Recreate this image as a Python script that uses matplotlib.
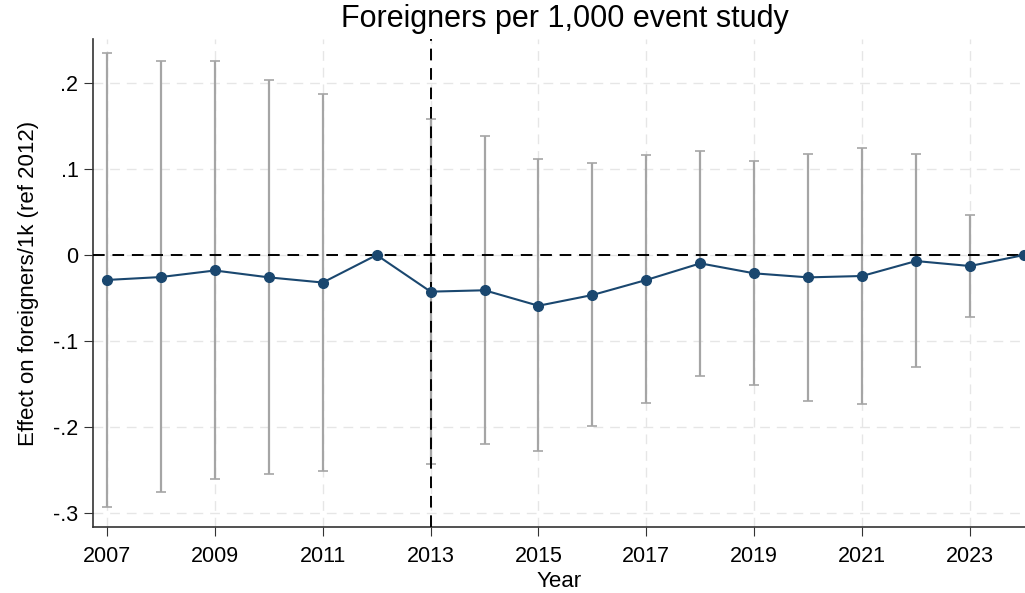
import numpy as np
import matplotlib
matplotlib.use("Agg")
import matplotlib.pyplot as plt

plt.rcParams['font.family'] = ['Liberation Sans', 'DejaVu Sans']

# event-study coefficients and 95% CIs (2012 and 2024 are reference points)
years = [2007, 2008, 2009, 2010, 2011, 2012, 2013, 2014, 2015,
         2016, 2017, 2018, 2019, 2020, 2021, 2022, 2023, 2024]
coef = [-0.029, -0.0256, -0.018, -0.026, -0.032, 0.0, -0.0426, -0.041, -0.059,
        -0.0465, -0.029, -0.0097, -0.0213, -0.026, -0.0244, -0.007, -0.0128, 0.0]
ci_hi = [0.2353, 0.2252, 0.2256, 0.2031, 0.1872, 0.0, 0.1578, 0.1388, 0.1112,
         0.1066, 0.1159, 0.1213, 0.109, 0.1174, 0.1248, 0.1178, 0.0465, 0.0]
ci_lo = [-0.2926, -0.276, -0.2608, -0.2543, -0.2516, 0.0, -0.243, -0.2202, -0.2283,
         -0.1984, -0.1725, -0.141, -0.1512, -0.1698, -0.1733, -0.1306, -0.0721, 0.0]
xticks = [2007, 2009, 2011, 2013, 2015, 2017, 2019, 2021, 2023]
yticks = [-0.3, -0.2, -0.1, 0.0, 0.1, 0.2]
ylabels = ['-.3', '-.2', '-.1', '0', '.1', '.2']

years = np.array(years)
coef = np.array(coef)
ci_hi = np.array(ci_hi)
ci_lo = np.array(ci_lo)

fig = plt.figure(figsize=(10.25, 5.93), dpi=100)
ax = fig.add_axes([0.0907, 0.1113, 0.9093, 0.8229])

grid_kw = dict(color='#e6e6e6', lw=1.0, ls=(0, (7, 5)), zorder=0)
for y in yticks:
    ax.axhline(y, **grid_kw)
for x in xticks:
    ax.axvline(x, **grid_kw)

has_ci = (ci_hi != 0) | (ci_lo != 0)
ax.errorbar(years[has_ci], coef[has_ci],
            yerr=[coef[has_ci] - ci_lo[has_ci], ci_hi[has_ci] - coef[has_ci]],
            fmt='none', ecolor='#a5a5a5', elinewidth=1.6, capsize=3.5, capthick=1.2, zorder=2)

ax.axhline(0, color='black', lw=1.4, ls=(0, (6, 4)), zorder=3)
ax.axvline(2013, color='black', lw=1.4, ls=(0, (6, 4)), zorder=3)

ax.plot(years, coef, color='#1a476f', lw=1.5, marker='o', ms=7, zorder=4, clip_on=False)

ax.set_xlim(2006.74, 2024.02)
ax.set_ylim(-0.3163, 0.2512)
ax.set_xticks(xticks)
ax.set_xticklabels([str(x) for x in xticks])
ax.set_yticks(yticks)
ax.set_yticklabels(ylabels)
ax.tick_params(labelsize=15.5, length=6.5, color='#333333', pad=4)
ax.tick_params(axis='x', pad=7)

for s in ['top', 'right']:
    ax.spines[s].set_visible(False)
for s in ['left', 'bottom']:
    ax.spines[s].set_color('#333333')
    ax.spines[s].set_linewidth(1.2)

ax.set_xlabel('Year', fontsize=16, labelpad=3)
ax.set_ylabel('Effect on foreigners/1k (ref 2012)', fontsize=16, labelpad=10)
fig.text(0.551, 0.968, 'Foreigners per 1,000 event study', ha='center', va='center', fontsize=22)

fig.savefig('out.png', dpi=100)
